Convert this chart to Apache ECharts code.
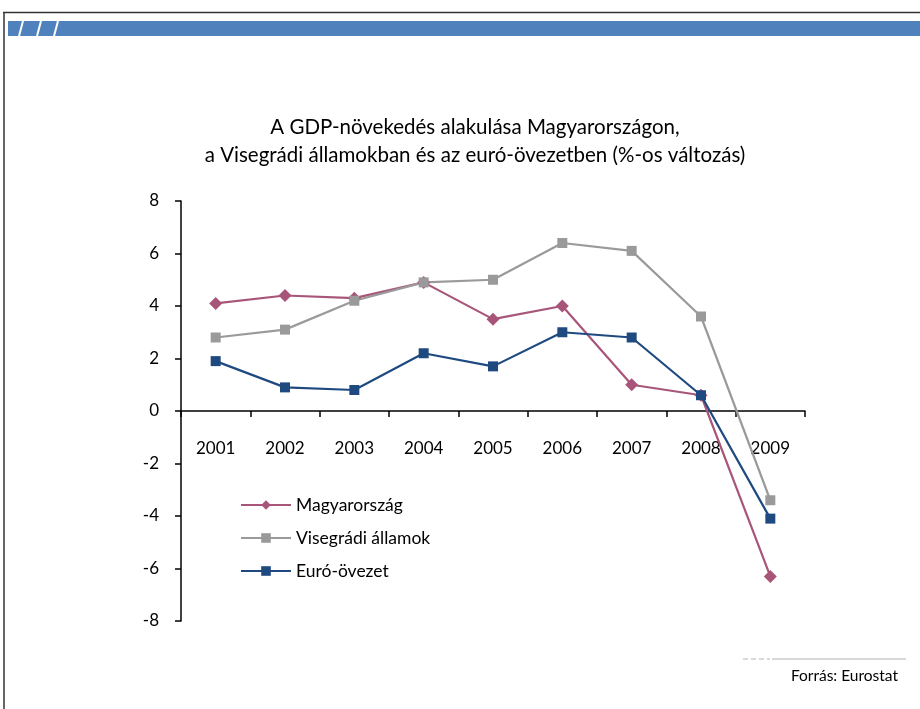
<!DOCTYPE html>
<html><head><meta charset="utf-8">
<script src="https://cdn.jsdelivr.net/npm/echarts@6/dist/echarts.min.js"></script>
<style>html,body{margin:0;padding:0;background:#fff}#c{width:920px;height:709px}</style>
</head><body><div id="c"></div>
<script>
const categories = ['2001','2002','2003','2004','2005','2006','2007','2008','2009'];
const magyarorszag = [4.1, 4.4, 4.3, 4.9, 3.5, 4.0, 1.0, 0.6, -6.3];
const visegradi = [2.8, 3.1, 4.2, 4.9, 5.0, 6.4, 6.1, 3.6, -3.4];
const euroOvezet = [1.9, 0.9, 0.8, 2.2, 1.7, 3.0, 2.8, 0.6, -4.1];
const seriesNames = ['Magyarország', 'Visegrádi államok', 'Euró-övezet'];
const yTicks = { min: -8, max: 8, interval: 2 };

const FONT = 'Lato';
const chart = echarts.init(document.getElementById('c'), null, {renderer: 'canvas'});
const colors = ['#A8557A', '#9A9A9A', '#1F4A80'];
chart.setOption({
  animation: false,
  textStyle: { fontFamily: FONT },
  title: {
    text: 'A GDP-növekedés alakulása Magyarországon,\na Visegrádi államokban és az euró-övezetben (%-os változás)',
    left: 470, top: 108, textAlign: 'center',
    textStyle: { fontFamily: FONT, fontSize: 20.5, fontWeight: 'normal', color: '#000', lineHeight: 28 }
  },
  grid: [
    { left: 181, top: 201, width: 624, height: 420, containLabel: false },
    { left: 181, top: 201, width: 624, height: 210, containLabel: false }
  ],
  legend: {
    orient: 'vertical', left: 235, top: 491, itemWidth: 50, itemHeight: 12, itemGap: 15,
    textStyle: { fontFamily: FONT, fontSize: 17.5, color: '#000' },
    data: seriesNames
  },
  xAxis: [
    { type: 'category', data: categories, boundaryGap: true, gridIndex: 0,
      axisLine: { show: false }, axisTick: { show: false }, axisLabel: { show: false } },
    { type: 'category', data: categories, boundaryGap: true, gridIndex: 1, position: 'bottom',
      axisLine: { onZero: false, lineStyle: { color: '#000', width: 1.5 } },
      axisTick: { show: true, length: 6, lineStyle: { color: '#000', width: 1.5 } },
      axisLabel: { margin: 29, fontSize: 17, color: '#000', fontFamily: FONT } }
  ],
  yAxis: [
    { type: 'value', min: yTicks.min, max: yTicks.max, interval: yTicks.interval, gridIndex: 0,
      splitLine: { show: false },
      axisLine: { show: true, lineStyle: { color: '#000', width: 1.5 } },
      axisTick: { show: true, length: 6, lineStyle: { color: '#000', width: 1.5 } },
      axisLabel: { margin: 22, fontSize: 17, color: '#000', fontFamily: FONT } },
    { type: 'value', min: 0, max: 8, gridIndex: 1, show: false }
  ],
  series: [
    { name: seriesNames[0], type: 'line', data: magyarorszag, symbol: 'diamond', symbolSize: 13,
      itemStyle: { color: colors[0] }, lineStyle: { color: colors[0], width: 2.2 } },
    { name: seriesNames[1], type: 'line', data: visegradi, symbol: 'rect', symbolSize: 10,
      itemStyle: { color: colors[1] }, lineStyle: { color: colors[1], width: 2.2 } },
    { name: seriesNames[2], type: 'line', data: euroOvezet, symbol: 'rect', symbolSize: 10,
      itemStyle: { color: colors[2] }, lineStyle: { color: colors[2], width: 2.2 } }
  ],
  graphic: [
    { type: 'line', shape: { x1: 3, y1: 12.5, x2: 920, y2: 12.5 }, style: { stroke: '#333', lineWidth: 1.5 } },
    { type: 'line', shape: { x1: 4, y1: 12, x2: 4, y2: 709 }, style: { stroke: '#333', lineWidth: 1.5 } },
    { type: 'rect', shape: { x: 8, y: 21, width: 912, height: 15 }, style: { fill: '#4F81BD' } },
    { type: 'line', shape: { x1: 19, y1: 36, x2: 23, y2: 21 }, style: { stroke: '#fff', lineWidth: 2 } },
    { type: 'line', shape: { x1: 37, y1: 36, x2: 41, y2: 21 }, style: { stroke: '#fff', lineWidth: 2 } },
    { type: 'line', shape: { x1: 54, y1: 36, x2: 58, y2: 21 }, style: { stroke: '#fff', lineWidth: 2 } },
    { type: 'line', shape: { x1: 743, y1: 659, x2: 770, y2: 659 }, style: { stroke: '#D9D9D9', lineWidth: 2, lineDash: [5, 3] } },
    { type: 'line', shape: { x1: 772, y1: 659, x2: 906, y2: 659 }, style: { stroke: '#D9D9D9', lineWidth: 2 } },
    { type: 'text', x: 898, y: 676, style: { text: 'Forrás: Eurostat', fill: '#000', font: '15.5px ' + FONT, textAlign: 'right', textVerticalAlign: 'middle' } }
  ]
});
</script></body></html>
